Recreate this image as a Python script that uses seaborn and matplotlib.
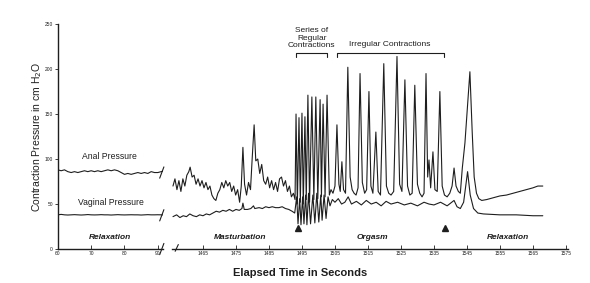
import numpy as np
import pandas as pd
import seaborn as sns
import matplotlib.pyplot as plt

# Baseline recording (left of the axis break), seconds 60-92
base_time = list(range(60, 93))
base_anal = [88, 87, 88, 86, 85, 86, 85, 86, 87, 86, 87, 86, 87, 86, 87, 88, 87,
             88, 87, 85, 83, 84, 83, 84, 85, 84, 85, 84, 86, 85, 85, 86, 87]
base_vaginal = [38, 38.5, 38, 37.8, 38, 38.2, 38, 37.8, 38, 38.3, 38, 37.9, 38, 38.2,
                38, 38, 37.8, 38, 38.2, 38, 37.9, 38, 38.1, 38, 38, 37.8, 38, 38.2,
                38, 38, 38.1, 38, 38]

# Main recording (right of the break)
anal_time = [1455.9, 1456.5, 1457.1, 1457.7, 1458.3, 1458.9, 1459.5, 1460.1, 1460.7,
             1461.1, 1461.7, 1462.3, 1462.9, 1463.5, 1464.1, 1464.7, 1465.3, 1465.9,
             1466.5, 1467.1, 1467.7, 1468.3, 1468.9, 1469.5, 1470.1, 1470.7, 1471.3,
             1471.9, 1472.5, 1473.1, 1473.7, 1474.3, 1474.9, 1475.5, 1476.1, 1476.6,
             1477.1, 1477.6, 1478.2, 1478.8, 1479.4, 1479.9, 1480.5, 1481.0, 1481.6,
             1482.2, 1482.8, 1483.4, 1484.0, 1484.6, 1485.2, 1485.8, 1486.4, 1487.0,
             1487.6, 1488.2, 1488.8, 1489.4, 1490.0, 1490.6, 1491.2, 1491.8, 1492.4,
             1492.9,
             1493.2, 1493.6, 1494.1, 1494.5, 1495.0, 1495.4, 1495.9, 1496.3, 1496.8,
             1497.3, 1498.0, 1498.6, 1499.2, 1499.8, 1500.5, 1500.9, 1501.4, 1502.0,
             1502.6, 1503.3, 1503.8, 1504.4, 1505.0, 1505.6, 1506.2, 1506.6, 1507.1,
             1507.6, 1508.2, 1508.9, 1509.6, 1510.2, 1510.8, 1511.4, 1512.0, 1512.6,
             1513.3, 1514.0, 1514.6, 1515.3, 1515.9, 1516.5, 1517.4, 1518.1, 1518.8,
             1519.8, 1520.6, 1521.3, 1522.0, 1522.8, 1523.8, 1524.6, 1525.3, 1526.2,
             1527.0, 1527.7, 1528.4, 1529.2, 1530.0, 1530.7, 1531.4, 1532.0, 1532.6,
             1533.1, 1533.5, 1534.0, 1534.7, 1535.3, 1536.0, 1536.8, 1537.5, 1538.2,
             1539.0, 1539.8, 1540.5, 1541.1, 1541.7, 1542.4, 1543.0, 1543.6, 1544.4,
             1545.0, 1545.9, 1546.6, 1547.2, 1547.9, 1548.6, 1549.5, 1551, 1553, 1555,
             1557, 1559, 1561, 1563, 1565, 1566.5, 1568]
anal_pressure = [70, 78, 66, 76, 64, 78, 70, 82, 86,
                 91, 80, 82, 72, 78, 70, 76, 68, 74,
                 66, 70, 60, 56, 54, 62, 66, 74, 68,
                 76, 70, 74, 64, 70, 60, 66, 52, 70,
                 113, 72, 60, 74, 66, 100, 138, 98, 100,
                 84, 94, 76, 72, 80, 68, 76, 66, 74,
                 64, 78, 80, 70, 76, 64, 70, 58, 62,
                 55,
                 150, 50, 146, 52, 151, 50, 147, 55, 171,
                 52, 169, 55, 169, 56, 166, 58, 161, 58,
                 171, 60, 66, 62, 70, 138, 72, 64, 97,
                 66, 62, 202, 80, 66, 62, 60, 68, 195,
                 74, 62, 66, 175, 70, 62, 130, 64, 60,
                 206, 70, 62, 60, 64, 214, 72, 64, 188,
                 70, 60, 62, 182, 72, 62, 58, 62, 195,
                 80, 99, 68, 108, 66, 64, 175, 70, 60,
                 58, 62, 70, 90, 70, 64, 62, 90, 118,
                 150, 197, 130, 80, 62, 56, 54, 55, 57, 59,
                 60, 62, 64, 66, 68, 70, 70]

vag_time = [1455.9, 1457, 1458, 1459, 1460, 1461, 1462, 1463, 1464, 1465, 1466, 1467,
            1468, 1469, 1470, 1471, 1472, 1473, 1474, 1475, 1476, 1476.8, 1477.1,
            1477.5, 1478.5, 1479.5, 1480.3, 1480.7, 1482, 1483, 1484, 1485, 1486,
            1487, 1488, 1489, 1490, 1491, 1492, 1492.8,
            1493.4, 1493.8, 1494.3, 1494.7, 1495.2, 1495.6, 1496.1, 1496.5, 1497.0,
            1497.6, 1498.3, 1498.9, 1499.5, 1500.1, 1500.7, 1501.1, 1501.7, 1502.3,
            1502.9, 1503.5, 1504.2, 1505, 1506, 1507, 1508, 1509, 1510, 1511.5,
            1513, 1514.5, 1516, 1517.5, 1519, 1520.5, 1522, 1524, 1526, 1528, 1530,
            1532, 1533.5, 1535, 1537, 1539, 1541.1, 1542, 1543, 1544, 1545.2, 1546,
            1547, 1548.3, 1550, 1555, 1560, 1565, 1568]
vag_pressure = [36, 38, 35, 37, 36, 39, 37, 36, 38, 37, 39, 38,
                40, 42, 41, 43, 42, 44, 42, 44, 43, 45, 51,
                44, 44, 45, 48, 45, 46, 45, 47, 46, 47,
                46, 46, 47, 45, 44, 42, 40,
                58, 28, 56, 27, 58, 28, 60, 27, 62,
                28, 60, 29, 62, 30, 60, 32, 60, 34,
                58, 48, 55, 52, 56, 50, 52, 58, 50, 53,
                49, 54, 50, 52, 48, 53, 50, 52, 49, 51, 48,
                52, 50, 49, 52, 48, 54, 47, 45, 52, 86, 60,
                45, 40, 39, 38, 38, 37, 37]

left_ticks = [60, 70, 80, 90]
right_ticks = [1465, 1475, 1485, 1495, 1505, 1515, 1525, 1535, 1545, 1555, 1565, 1575]
y_ticks = [0, 50, 100, 150, 200, 250]
marker_times = [1493.8, 1538.3]

sns.set_theme(style="white")
plt.rcParams["font.family"] = ["Liberation Sans", "DejaVu Sans"]

ink = "#1e1e1e"
fig = plt.figure(figsize=(5.9, 2.83), dpi=100)
ax1 = fig.add_axes([0.098, 0.120, 0.178, 0.795])
ax2 = fig.add_axes([0.2915, 0.120, 0.671, 0.795], sharey=ax1)

left = pd.DataFrame({"t": base_time, "anal": base_anal, "vag": base_vaginal})
anal = pd.DataFrame({"t": anal_time, "p": anal_pressure})
vag = pd.DataFrame({"t": vag_time, "p": vag_pressure})

sns.lineplot(data=left, x="t", y="anal", ax=ax1, color=ink, lw=0.8, estimator=None)
sns.lineplot(data=left, x="t", y="vag", ax=ax1, color=ink, lw=0.8, estimator=None)
sns.lineplot(data=anal, x="t", y="p", ax=ax2, color=ink, lw=0.8, estimator=None, sort=False)
sns.lineplot(data=vag, x="t", y="p", ax=ax2, color=ink, lw=0.8, estimator=None, sort=False)

ax1.set_xlim(60, 91.5)
ax2.set_xlim(1455.6, 1575.6)
ax1.set_ylim(0, 250)

for ax in (ax1, ax2):
    ax.set_xlabel("")
    ax.set_ylabel("")
    for s in ("top", "right"):
        ax.spines[s].set_visible(False)
    ax.spines["bottom"].set_color(ink)
    ax.spines["bottom"].set_linewidth(1.0)
    ax.tick_params(axis="x", direction="in", length=3, width=0.6, labelsize=3.5,
                   pad=1.5, colors=ink, bottom=True)

ax2.spines["left"].set_visible(False)
ax2.tick_params(axis="y", left=False, labelleft=False)
ax1.spines["left"].set_color(ink)
ax1.spines["left"].set_linewidth(1.0)
ax1.tick_params(axis="y", direction="out", length=2.5, width=0.6, labelsize=3.5,
                pad=1, colors=ink, left=True)

ax1.set_xticks(left_ticks)
ax1.set_xticklabels([str(v) for v in left_ticks])
ax2.set_xticks(right_ticks)
ax2.set_xticklabels([str(v) for v in right_ticks])
ax1.set_yticks(y_ticks)
ax1.set_yticklabels([str(v) for v in y_ticks])

ax1.set_ylabel("Contraction Pressure in cm H$_2$O", fontsize=7.5, color=ink)
ax1.yaxis.set_label_coords(-0.13, 0.5)

# axis-break slashes
kw = dict(color=ink, lw=0.8, clip_on=False)
for yy in (0.0, 0.34, 0.15):
    ax1.plot([0.97, 1.01], [yy - 0.025, yy + 0.025], transform=ax1.transAxes, **kw)
ax2.plot([0.008, 0.016], [-0.01, 0.02], transform=ax2.transAxes, **kw)

# phase labels
lab = dict(fontsize=6, fontweight="bold", fontstyle="italic", ha="center",
           va="center", color=ink)
ax1.text(75.6, 13, "Relaxation", **lab)
ax2.text(1476.2, 13, "Masturbation", **lab)
ax2.text(1516.2, 13, "Orgasm", **lab)
ax2.text(1557.4, 13, "Relaxation", **lab)

ax1.text(75.6, 103, "Anal Pressure", fontsize=6.2, ha="center", va="center", color=ink)
ax1.text(75.9, 52, "Vaginal Pressure", fontsize=6.2, ha="center", va="center", color=ink)

# contraction brackets
ax2.text(1498, 234, "Series of\nRegular\nContractions", fontsize=6, ha="center",
         va="center", linespacing=1.1, color=ink, clip_on=False)
ax2.text(1521.7, 227, "Irregular Contractions", fontsize=6, ha="center",
         va="center", color=ink, clip_on=False)
for a, b in ((1493.2, 1502.6), (1505.6, 1538.0)):
    ax2.plot([a, a, b, b], [213, 218, 218, 213], color=ink, lw=0.8, clip_on=False)

ax2.plot(marker_times, [23] * len(marker_times), ls="none", marker="^",
         color=ink, markersize=4)

fig.text(0.508, 0.037, "Elapsed Time in Seconds", fontsize=8, fontweight="bold",
         ha="center", va="center", color=ink)

plt.savefig("out.png", dpi=100)
